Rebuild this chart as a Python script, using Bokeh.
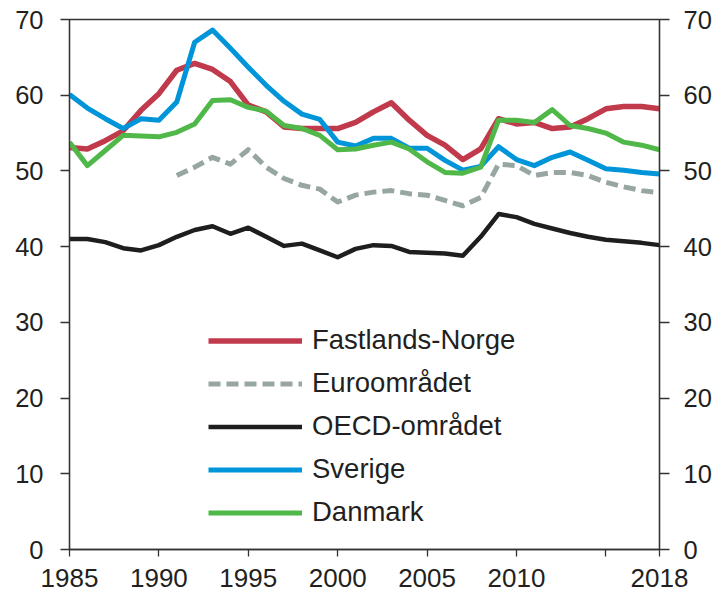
from bokeh.plotting import figure
from bokeh.models import Range1d, LinearAxis, FixedTicker, Legend, LegendItem
from bokeh.embed import file_html
from bokeh.resources import INLINE

nan = float("nan")
years = list(range(1985, 2019))

fastlands_norge = [53.1, 52.9, 54.0, 55.3, 58.0, 60.2, 63.3, 64.2, 63.4, 61.8,
                   58.7, 57.8, 55.8, 55.6, 55.6, 55.6, 56.4, 57.8, 59.0, 56.7,
                   54.7, 53.4, 51.5, 52.9, 56.9, 56.2, 56.4, 55.6, 55.8, 56.9,
                   58.2, 58.5, 58.5, 58.2]
euroomradet = [nan, nan, nan, nan, nan, nan, 49.4, 50.5, 51.8, 50.9,
               52.8, 50.5, 49.0, 48.1, 47.6, 45.9, 46.8, 47.2, 47.4, 47.0,
               46.8, 46.1, 45.4, 46.5, 50.9, 50.7, 49.4, 49.8, 49.8, 49.4,
               48.5, 47.9, 47.4, 47.1]
oecd_omradet = [41.0, 41.0, 40.6, 39.8, 39.5, 40.2, 41.3, 42.2, 42.7, 41.7,
                42.5, 41.3, 40.1, 40.4, 39.5, 38.6, 39.7, 40.2, 40.1, 39.3,
                39.2, 39.1, 38.8, 41.3, 44.3, 43.9, 43.0, 42.4, 41.8, 41.3,
                40.9, 40.7, 40.5, 40.2]
sverige = [60.1, 58.3, 56.9, 55.6, 56.9, 56.7, 59.1, 67.0, 68.6, 66.2,
           63.7, 61.3, 59.2, 57.5, 56.8, 53.8, 53.3, 54.3, 54.3, 53.0,
           53.0, 51.4, 50.1, 50.6, 53.2, 51.5, 50.7, 51.8, 52.5, 51.4,
           50.3, 50.1, 49.8, 49.6]
danmark = [53.8, 50.7, 52.7, 54.7, 54.6, 54.5, 55.1, 56.2, 59.3, 59.4,
           58.4, 57.9, 56.0, 55.6, 54.7, 52.8, 52.9, 53.4, 53.8, 52.9,
           51.2, 49.8, 49.7, 50.5, 56.7, 56.7, 56.4, 58.1, 56.0, 55.6,
           55.0, 53.8, 53.4, 52.8]

series_names = ["Fastlands-Norge", "Euroområdet", "OECD-området", "Sverige", "Danmark"]

x_ticks = [1985, 1990, 1995, 2000, 2005, 2010, 2015, 2018]
x_tick_labels = ["1985", "1990", "1995", "2000", "2005", "2010", "", "2018"]
y_ticks = [0, 10, 20, 30, 40, 50, 60, 70]

FONT = "Liberation Sans"
TXT = "#231f20"
AX = "#333333"

p = figure(width=716, height=598, output_backend="svg", toolbar_location=None,
           x_range=Range1d(1985, 2018), y_range=Range1d(0, 70),
           min_border_left=69, min_border_right=57, min_border_top=19,
           min_border_bottom=49)
p.xgrid.visible = False
p.ygrid.visible = False
p.outline_line_color = AX
p.outline_line_width = 1.3
p.background_fill_color = "white"
p.border_fill_color = "white"

styles = [
    dict(color="#c03a4c", line_width=5.5, line_dash="solid"),
    dict(color="#97a6a2", line_width=5, line_dash="12 6"),
    dict(color="#1e1e1e", line_width=4.5, line_dash="solid"),
    dict(color="#0095d9", line_width=5, line_dash="solid"),
    dict(color="#4fb848", line_width=5, line_dash="solid"),
]
data = [fastlands_norge, euroomradet, oecd_omradet, sverige, danmark]

items = []
for name, vals, st in zip(series_names, data, styles):
    r = p.line(years, vals, line_color=st["color"], line_width=st["line_width"],
               line_dash=st["line_dash"], line_join="round")
    items.append(LegendItem(label=name, renderers=[r]))

# axes
xa = p.xaxis[0]
xa.ticker = FixedTicker(ticks=x_ticks)
xa.major_label_overrides = {t: l for t, l in zip(x_ticks, x_tick_labels)}
xa.minor_tick_line_color = None
xa.major_tick_in = 0
xa.major_tick_out = 7
xa.major_label_standoff = 12
xa.major_label_text_font = FONT
xa.major_label_text_font_size = "26px"
xa.major_label_text_color = TXT
xa.axis_line_color = AX
xa.axis_line_width = 1.3
xa.major_tick_line_color = AX
xa.major_tick_line_width = 1.3

ya = p.yaxis[0]
ya.ticker = FixedTicker(ticks=y_ticks)
ya.minor_tick_line_color = None
ya.major_tick_in = 0
ya.major_tick_out = 9
ya.major_label_standoff = 17
ya.major_label_text_font = FONT
ya.major_label_text_font_size = "25.5px"
ya.major_label_text_color = TXT
ya.axis_line_color = AX
ya.axis_line_width = 1.3
ya.major_tick_line_color = AX
ya.major_tick_line_width = 1.3

ra = LinearAxis(ticker=FixedTicker(ticks=y_ticks))
ra.minor_tick_line_color = None
ra.major_tick_in = 0
ra.major_tick_out = 10
ra.major_label_standoff = 14
ra.major_label_text_font = FONT
ra.major_label_text_font_size = "25.5px"
ra.major_label_text_color = TXT
ra.axis_line_color = AX
ra.axis_line_width = 1.3
ra.major_tick_line_color = AX
ra.major_tick_line_width = 1.3
p.add_layout(ra, "right")

legend = Legend(items=items, location=(139, 21), glyph_width=94, glyph_height=31,
                label_height=31, spacing=11, label_standoff=10, padding=0, margin=0,
                border_line_color=None, background_fill_alpha=0,
                label_text_font=FONT, label_text_font_size="27.5px",
                label_text_color=TXT)
p.add_layout(legend)

open("out.html", "w").write(file_html(p, INLINE))
